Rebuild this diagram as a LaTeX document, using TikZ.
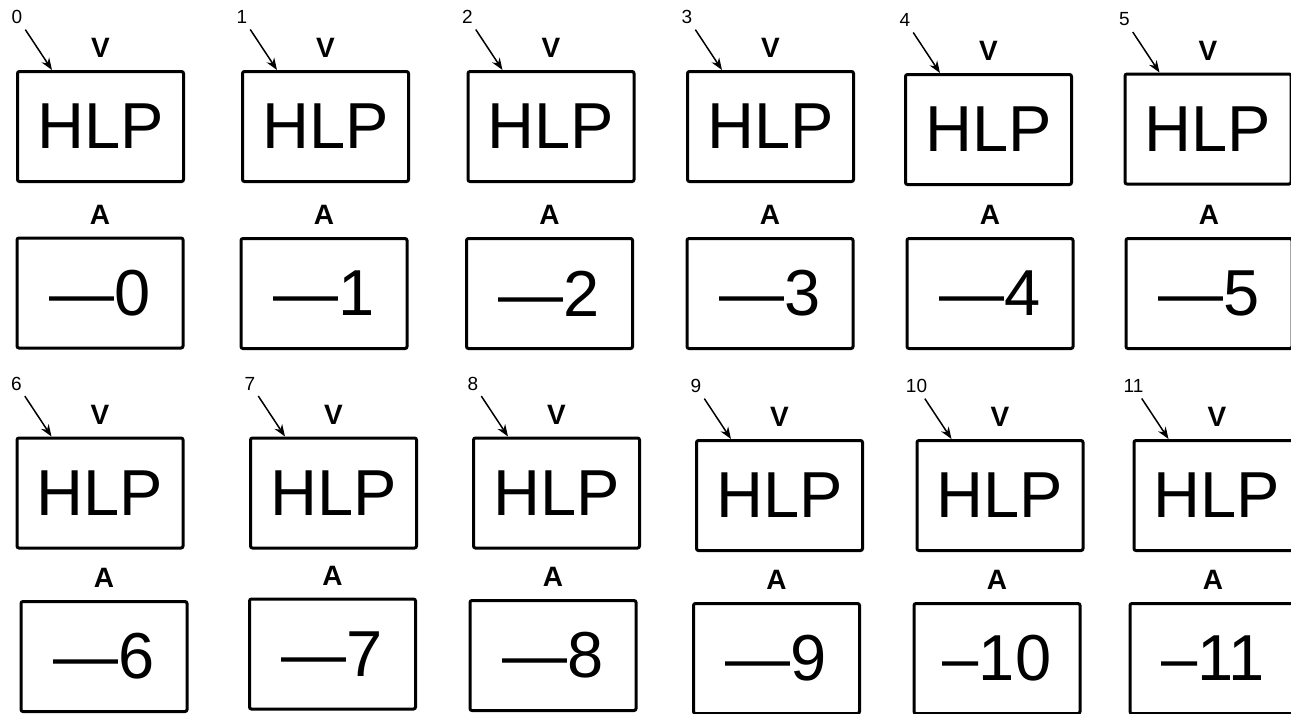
\documentclass[tikz,border=0pt]{standalone}
\usepackage{fontspec}
\setmainfont{Liberation Sans}
\usetikzlibrary{arrows.meta, positioning}

\tikzset{
  cellbox/.style={draw, line width=1.5pt, rounded corners=1pt, minimum width=83pt, minimum height=55pt, inner sep=0pt, font=\fontsize{32.5}{36}\selectfont},
  celllab/.style={font=\bfseries\fontsize{14}{16}\selectfont, inner sep=0pt},
  idxlab/.style={font=\fontsize{9.5}{11}\selectfont, inner sep=2.75pt}
}

\begin{document}
\begin{tikzpicture}[x=0.5pt, y=-0.5pt, >={Stealth[length=6pt, width=4.5pt]}]
  \useasboundingbox (0,0) rectangle (1291,713);
  \clip (0,0) rectangle (1291,713);

  % one cell: HLP box with V above, value box with A above, numbered arrow
  \foreach \i/\hx/\hy/\ax/\ay in {0/100.5/126.5/100/293, 1/325.5/126.5/324/293.5,
      2/551/126.5/549.5/293.5, 3/770.5/126.5/770/293.5, 4/988.5/129.5/990/293.5,
      5/1208/129/1209/293.5, 6/100/493/104/656.5, 7/333.5/493/332.5/654,
      8/556.5/493/553/655.5, 9/779.5/495.5/776.5/658.5, 10/1000/495.5/997/658.5,
      11/1217/495.5/1213/658.5} {
    \node[cellbox] (h\i) at (\hx,\hy) {HLP};
    \node[celllab, above=6pt of h\i] (v\i) {V};
    \node[cellbox] (a\i) at (\ax,\ay) {\ifnum\i<10 \textemdash\else\textendash\fi\i};
    \node[celllab, above=6pt of a\i] (l\i) {A};
    \node[idxlab] (n\i) at ([shift={(1,-53)}]h\i.north west) {\i};
    \coordinate (t\i) at ([xshift=18pt]h\i.north west);
    \draw[->, line width=0.75pt] (n\i) -- (t\i);
  }
\end{tikzpicture}
\end{document}
